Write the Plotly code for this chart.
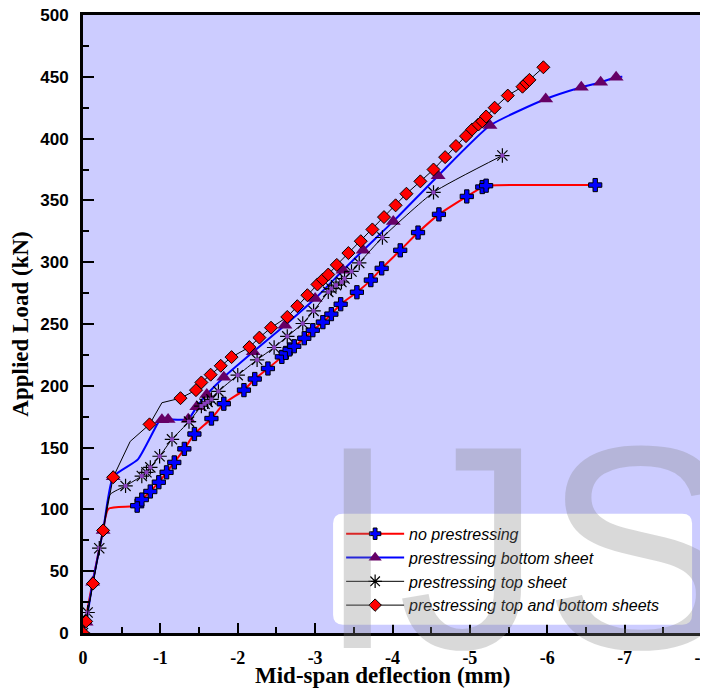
import plotly.graph_objects as go

# ---------------- data ----------------
x_tick_vals = [0, -1, -2, -3, -4, -5, -6, -7, -8]
x_tick_text = ["0", "-1", "-2", "-3", "-4", "-5", "-6", "-7", "-8"]
y_tick_vals = [0, 50, 100, 150, 200, 250, 300, 350, 400, 450, 500]

x_title = "Mid-span deflection (mm)"
y_title = "Applied Load (kN)"
series_names = ["no prestressing", "prestressing bottom sheet",
                "prestressing top sheet", "prestressing top and bottom sheets"]

# no prestressing
np_line_x = [0, -0.03, -0.12, -0.26, -0.33, -0.70, -0.76, -0.87, -0.98, -1.08, -1.18, -1.31,
             -1.44, -1.66, -1.82, -2.08, -2.22, -2.39, -2.57, -2.62, -2.67, -2.73, -2.86,
             -2.97, -3.10, -3.21, -3.33, -3.54, -3.72, -3.86, -4.10, -4.33, -4.60, -4.96,
             -5.16, -5.21, -6.62]
np_line_y = [0, 10, 40, 83, 100.5, 103, 108, 114.5, 122, 130, 138, 149,
             161, 173.5, 185.5, 196.5, 205.5, 214, 223.4, 226.6, 229.4, 232, 238.5,
             245, 251.5, 258, 266, 275.7, 285.5, 295, 309.6, 324, 338.7, 353.2,
             360.8, 361.9, 362.4]
np_mark_x = [-0.70, -0.76, -0.87, -0.98, -1.08, -1.18, -1.31, -1.44, -1.66, -1.82, -2.08,
             -2.22, -2.39, -2.57, -2.62, -2.67, -2.73, -2.86, -2.97, -3.10, -3.21, -3.33,
             -3.54, -3.72, -3.86, -4.10, -4.33, -4.60, -4.96, -5.16, -5.21, -6.62]
np_mark_y = [103, 108, 114.5, 122, 130, 138, 149, 161, 173.5, 185.5, 196.5,
             205.5, 214, 223.4, 226.6, 229.4, 232, 238.5, 245, 251.5, 258, 266,
             275.7, 285.5, 295, 309.6, 324, 338.7, 353.2, 360.8, 361.9, 362.4]

# prestressing bottom sheet
bs_line_x = [0, -0.04, -0.125, -0.26, -0.39, -0.71, -0.99, -1.02, -1.10, -1.36, -1.47,
             -1.60, -1.82, -2.20, -2.61, -3.00, -3.36, -3.62, -4.01, -4.59, -5.26, -5.98,
             -6.44, -6.69, -6.89, -6.97]
bs_line_y = [0, 8.6, 41, 83, 126.5, 140.5, 172, 172.5, 172.8, 173, 183,
             193, 207, 227.5, 249, 270.6, 293.5, 309.6, 333, 370, 410.6, 432,
             441.5, 445.6, 449.6, 450]
bs_mark_x = [0, -0.04, -0.125, -0.26, -0.39, -1.02, -1.10, -1.36, -1.47, -1.60, -1.82,
             -2.20, -2.61, -3.00, -3.36, -3.62, -4.01, -4.59, -5.26, -5.98, -6.44,
             -6.69, -6.89]
bs_mark_y = [0, 8.6, 41, 83, 126.5, 172.5, 172.8, 173, 183, 193, 207,
             227.5, 249, 270.6, 293.5, 309.6, 333, 370, 410.6, 432, 441.5,
             445.6, 449.6]

# prestressing top sheet
ts_line_x = [0, -0.06, -0.21, -0.26, -0.35, -0.55, -0.76, -0.82, -0.87, -0.99, -1.15,
             -1.37, -1.53, -1.57, -1.61, -1.66, -1.75, -2.00, -2.25, -2.47, -2.64, -2.84,
             -2.98, -3.17, -3.21, -3.27, -3.34, -3.38, -3.47, -3.57, -3.87, -4.53, -5.42]
ts_line_y = [0, 16.6, 68.6, 83, 112, 119, 127, 130, 134, 143, 156.7,
             171, 183.6, 185.5, 187, 189, 195.5, 208.6, 221, 231, 240, 250.4,
             260.6, 276, 278.7, 281.4, 284, 286.8, 292.5, 299.4, 320, 356.5, 386.3]
ts_mark_x = [0, -0.06, -0.21, -0.55, -0.76, -0.82, -0.87, -0.99, -1.15, -1.37, -1.53,
             -1.57, -1.61, -1.66, -1.75, -2.00, -2.25, -2.47, -2.64, -2.84, -2.98, -3.17,
             -3.21, -3.27, -3.34, -3.38, -3.47, -3.57, -3.87, -4.53, -5.42]
ts_mark_y = [0, 16.6, 68.6, 119, 127, 130, 134, 143, 156.7, 171, 183.6,
             185.5, 187, 189, 195.5, 208.6, 221, 231, 240, 250.4, 260.6, 276,
             278.7, 281.4, 284, 286.8, 292.5, 299.4, 320, 356.5, 386.3]

# prestressing top and bottom sheets
tb_line_x = [0, -0.04, -0.13, -0.26, -0.39, -0.61, -0.86, -1.02, -1.26, -1.46, -1.53,
             -1.65, -1.78, -1.92, -2.15, -2.28, -2.43, -2.64, -2.77, -2.90, -3.03, -3.10,
             -3.17, -3.28, -3.43, -3.59, -3.74, -3.89, -4.04, -4.18, -4.36, -4.53, -4.68,
             -4.82, -4.95, -5.03, -5.11, -5.16, -5.21, -5.32, -5.49, -5.68, -5.73, -5.77,
             -5.95]
tb_line_y = [0, 9.4, 40, 83, 126, 155, 168.8, 186.3, 190, 196.5, 202.7,
             209, 216.2, 223.2, 231.3, 239, 247, 255.7, 264.4, 273.3, 282, 286,
             290, 297.8, 307.4, 317, 326.5, 336.5, 346, 355.4, 365.4, 375, 385,
             394, 402, 407.4, 411.4, 414, 417.9, 425, 434.8, 442, 445, 447.5,
             457.7]
tb_mark_x = [0, -0.04, -0.13, -0.26, -0.39, -0.86, -1.26, -1.46, -1.53, -1.65, -1.78,
             -1.92, -2.15, -2.28, -2.43, -2.64, -2.77, -2.90, -3.03, -3.10, -3.17, -3.28,
             -3.43, -3.59, -3.74, -3.89, -4.04, -4.18, -4.36, -4.53, -4.68, -4.82, -4.95,
             -5.03, -5.11, -5.16, -5.21, -5.32, -5.49, -5.68, -5.73, -5.77, -5.95]
tb_mark_y = [0, 9.4, 40, 83, 126, 168.8, 190, 196.5, 202.7, 209, 216.2,
             223.2, 231.3, 239, 247, 255.7, 264.4, 273.3, 282, 286, 290, 297.8,
             307.4, 317, 326.5, 336.5, 346, 355.4, 365.4, 375, 385, 394, 402,
             407.4, 411.4, 414, 417.9, 425, 434.8, 442, 445, 447.5, 457.7]


def marker_sizes(lx, ly, mx, my, size):
    marks = set(zip(mx, my))
    return [size if (a, b) in marks else 0 for a, b in zip(lx, ly)]


fig = go.Figure()

# no prestressing
fig.add_trace(go.Scatter(
    x=np_line_x, y=np_line_y, name=series_names[0], mode="lines+markers",
    line=dict(color="#ff0000", width=2, shape="spline", smoothing=0.6),
    marker=dict(symbol="cross", color="#0000ff", opacity=1,
                size=marker_sizes(np_line_x, np_line_y, np_mark_x, np_mark_y, 11),
                line=dict(color="black", width=1))))

# prestressing bottom sheet
fig.add_trace(go.Scatter(
    x=bs_line_x, y=bs_line_y, name=series_names[1], mode="lines+markers",
    line=dict(color="#0000ff", width=2, shape="spline", smoothing=0.5),
    marker=dict(symbol="triangle-up", color="#660066", opacity=1,
                size=marker_sizes(bs_line_x, bs_line_y, bs_mark_x, bs_mark_y, 13),
                line=dict(color="#660066", width=0))))

# prestressing top sheet
fig.add_trace(go.Scatter(
    x=ts_line_x, y=ts_line_y, name=series_names[2], mode="lines+markers",
    line=dict(color="black", width=1, shape="spline", smoothing=0.5),
    marker=dict(symbol="asterisk-open", color="black", opacity=1,
                size=marker_sizes(ts_line_x, ts_line_y, ts_mark_x, ts_mark_y, 12),
                line=dict(color="black", width=1.2))))
fig.add_trace(go.Scatter(
    x=ts_mark_x, y=ts_mark_y, mode="markers", showlegend=False, hoverinfo="skip",
    marker=dict(symbol="square", color="#8a3fc0", size=4, opacity=1, line=dict(width=0))))

# prestressing top and bottom sheets
fig.add_trace(go.Scatter(
    x=tb_line_x, y=tb_line_y, name=series_names[3], mode="lines+markers",
    line=dict(color="black", width=1),
    marker=dict(symbol="diamond", color="#ff0000", opacity=1,
                size=marker_sizes(tb_line_x, tb_line_y, tb_mark_x, tb_mark_y, 10),
                line=dict(color="black", width=1))))

# rounded white legend box
rx, ry = 0.016, 0.016
x0, x1, y0, y1 = 0.404, 0.984, 0.0134, 0.193
path = (f"M{x0+rx},{y0} L{x1-rx},{y0} Q{x1},{y0} {x1},{y0+ry} L{x1},{y1-ry} "
        f"Q{x1},{y1} {x1-rx},{y1} L{x0+rx},{y1} Q{x0},{y1} {x0},{y1-ry} "
        f"L{x0},{y0+ry} Q{x0},{y0} {x0+rx},{y0} Z")
fig.add_shape(type="path", path=path, xref="paper", yref="paper",
              fillcolor="white", line=dict(width=0), layer="above")

# watermark
fig.add_annotation(text="IJS", xref="paper", yref="paper", x=0.375, y=0.404,
                   xanchor="left", yanchor="top", showarrow=False,
                   font=dict(family="Liberation Sans, Arial", size=290,
                             color="rgba(128,128,128,0.3)"))

# x axis title (slightly left of the plot centre, as in the original)
fig.add_annotation(text=x_title, xref="paper", yref="paper", x=0.485, y=-0.069,
                   xanchor="center", yanchor="middle", showarrow=False,
                   font=dict(family="Liberation Serif, Times New Roman", size=23,
                             color="black", weight="bold"))

# the page body has an 8 px margin, so the figure is 8 px smaller than the window
fig.update_layout(
    width=700, height=684,
    margin=dict(l=75, r=6, t=6.5, b=58.7, autoexpand=False),
    paper_bgcolor="white", plot_bgcolor="#ccccff",
    showlegend=True,
    legend=dict(x=0.417, y=0.188, xanchor="left", yanchor="top",
                bgcolor="rgba(0,0,0,0)", borderwidth=0, itemwidth=58,
                font=dict(family="Liberation Sans, Arial", size=16, color="black",
                          style="italic"),
                tracegroupgap=0),
)

fig.update_xaxes(
    range=[0, -8], autorange=False, automargin=False,
    tickvals=x_tick_vals, ticktext=x_tick_text, ticklabeloverflow="allow",
    ticks="inside", ticklen=10, tickwidth=2, tickcolor="black",
    minor=dict(dtick=0.5, ticks="inside", ticklen=6, tickwidth=2, tickcolor="black"),
    showline=True, linewidth=3, linecolor="black", mirror=True,
    showgrid=False, zeroline=False, ticklabelstandoff=6,
    tickfont=dict(family="Liberation Serif, Times New Roman", size=18, color="black",
                  weight="bold"),
)
fig.update_yaxes(
    range=[0, 500], autorange=False, automargin=False,
    tickvals=y_tick_vals, ticklabeloverflow="allow",
    ticks="inside", ticklen=11, tickwidth=2, tickcolor="black",
    minor=dict(dtick=25, ticks="inside", ticklen=6, tickwidth=2, tickcolor="black"),
    showline=True, linewidth=3, linecolor="black", mirror=True,
    showgrid=False, zeroline=False, ticklabelstandoff=8,
    tickfont=dict(family="Liberation Sans, Arial", size=17, color="black",
                  weight="bold"),
    title=dict(text=y_title, standoff=6,
               font=dict(family="Liberation Serif, Times New Roman", size=23,
                         color="black", weight="bold")),
)

fig.write_html("out.html")
